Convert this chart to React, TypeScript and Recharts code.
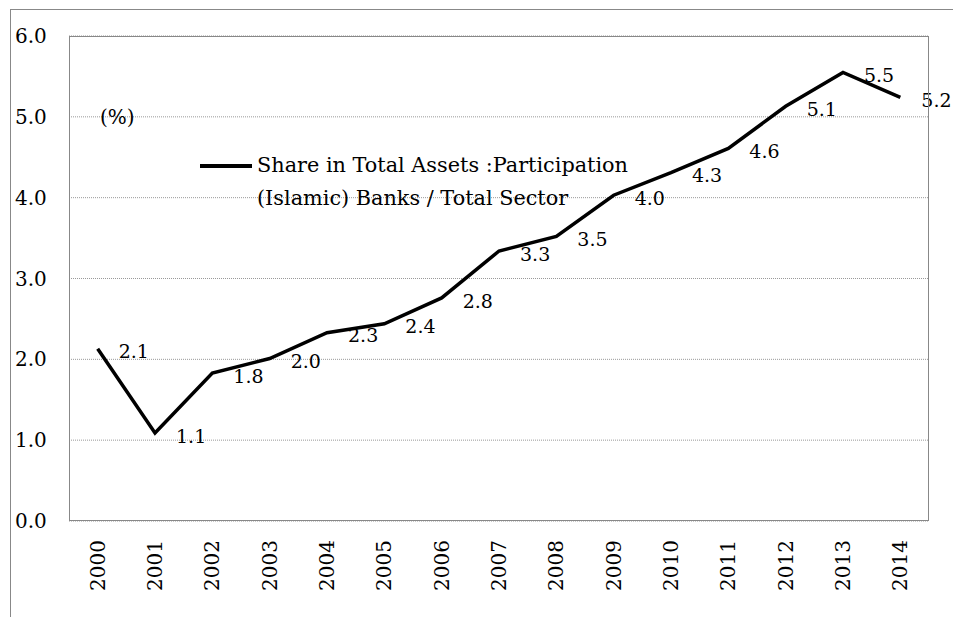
import { LineChart, Line, XAxis, YAxis, CartesianGrid, LabelList } from "recharts";

// Years on the category axis
const years = ["2000", "2001", "2002", "2003", "2004", "2005", "2006", "2007", "2008", "2009", "2010", "2011", "2012", "2013", "2014"];
// Share of participation banks in total sector assets (%)
const shares = [2.13, 1.09, 1.83, 2.01, 2.33, 2.44, 2.76, 3.34, 3.52, 4.03, 4.31, 4.61, 5.13, 5.55, 5.24];
const yTicks = [0, 1, 2, 3, 4, 5, 6];

const data = years.map((year, i) => ({ year, share: shares[i] }));

const FONT = "'DejaVu Serif', serif";
const FS = 20;

const YTick = (props: any) => {
  const { y, payload } = props;
  return (
    <text x={15} y={y} dy="0.35em" textAnchor="start" style={{ fontFamily: FONT, fontSize: FS }} fill="#000">
      {payload.value.toFixed(1)}
    </text>
  );
};

const XTick = (props: any) => {
  const { x, payload } = props;
  return (
    <g transform={`translate(${x},540)`}>
      <text transform="rotate(-90)" dy="0.35em" textAnchor="end" style={{ fontFamily: FONT, fontSize: FS }} fill="#000">
        {payload.value}
      </text>
    </g>
  );
};

// value labels sit just right of each point
const PointLabel = (props: any) => {
  const { x, y, value } = props;
  return (
    <text x={x + 21} y={y + 3} dy="0.35em" textAnchor="start" style={{ fontFamily: FONT, fontSize: 19 }} fill="#000">
      {Number(value).toFixed(1)}
    </text>
  );
};

export default function App() {
  return (
    <div style={{ position: "absolute", left: 0, top: 0, width: 953, height: 617, overflow: "hidden", background: "#fff", fontFamily: FONT }}>
      <div style={{ position: "absolute", left: 10, top: 9, width: 1000, height: 700, borderLeft: "1.5px solid #888", borderTop: "1.5px solid #888" }} />
      <LineChart width={953} height={617} data={data} margin={{ top: 36, right: 24, left: 0, bottom: 6 }}>
        <CartesianGrid horizontal vertical={false} stroke="#999" strokeDasharray="1 1" />
        <XAxis
          dataKey="year"
          height={90}
          padding={{ left: 28.67, right: 28.67 }}
          axisLine={false}
          tickLine={false}
          interval={0}
          tick={<XTick />}
        />
        <YAxis
          width={69}
          domain={[0, 6]}
          ticks={yTicks}
          axisLine={false}
          tickLine={false}
          tick={<YTick />}
        />
        <Line
          type="linear"
          dataKey="share"
          stroke="#000"
          strokeWidth={3.5}
          dot={false}
          isAnimationActive={false}
        >
          <LabelList dataKey="share" content={<PointLabel />} />
        </Line>
      </LineChart>
      <div style={{ position: "absolute", left: 69, top: 36, width: 860, height: 485, border: "1.5px solid #888", boxSizing: "border-box", pointerEvents: "none" }} />
      <div style={{ position: "absolute", left: 100, top: 101, fontSize: FS, color: "#000", lineHeight: "33px" }}>(%)</div>
      <div style={{ position: "absolute", left: 200, top: 149, fontSize: 20.8, color: "#000", lineHeight: "33px", whiteSpace: "nowrap" }}>
        <div style={{ position: "absolute", left: 0, top: 15, width: 52, height: 3.5, background: "#000" }} />
        <div style={{ position: "absolute", left: 57, top: 0 }}>Share in Total Assets :Participation</div>
        <div style={{ position: "absolute", left: 57, top: 33 }}>(Islamic) Banks / Total Sector</div>
      </div>
    </div>
  );
}
